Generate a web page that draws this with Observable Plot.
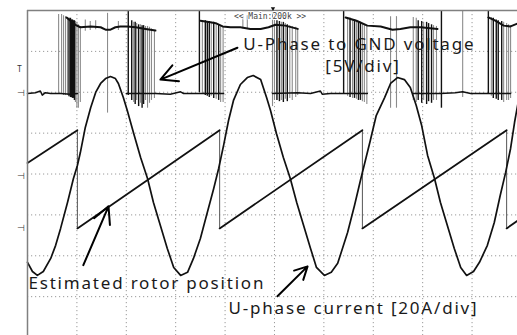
<!DOCTYPE html>
<html><head><meta charset="utf-8">
<script src="https://cdn.jsdelivr.net/npm/d3@7"></script>
<script src="https://cdn.jsdelivr.net/npm/@observablehq/plot@0.6"></script>
<style>
html,body{margin:0;padding:0;background:#fff;}
#chart{width:517px;height:335px;overflow:hidden;}
</style></head><body><div id="chart"></div>
<script>
// Time axis in screen divisions (10 div across), channel values in physical units
const VOLT_PER_DIV = 5, AMP_PER_DIV = 20, DEG_PER_DIV = 150;
const offsetVolt = 1.97, offsetAmp = -0.06, offsetDeg = -1.33; // channel ground levels (div)

// CH2: U-phase current [A]  (t div, A)
const currentTrace = [
 [0,-42],[0.10,-46.5],[0.20,-48.4],[0.32,-46.5],[0.47,-40.1],[0.57,-33.7],[0.67,-25.4],[0.81,-12.7],
 [0.93,-1.0],[1.01,5.4],[1.07,11.7],[1.17,24.0],[1.28,33.7],[1.38,41.1],[1.48,45.5],[1.58,47.9],
 [1.68,48.9],[1.78,47.9],[1.84,45.5],[1.94,38.6],[2.02,32.3],[2.15,21.0],[2.29,9.3],[2.43,-1.0],
 [2.55,-12.7],[2.69,-24.0],[2.83,-35.2],[2.96,-44.5],[3.10,-48.4],[3.24,-46.9],[3.36,-40.1],[3.50,-30.3],
 [3.64,-17.6],[3.77,-5.9],[3.87,3.9],[3.97,15.2],[4.07,27.4],[4.17,37.2],[4.31,45.0],[4.45,48.4],
 [4.57,49.4],[4.72,47.4],[4.84,38.6],[4.92,32.3],[5.04,21.0],[5.18,9.3],[5.32,-1.0],[5.45,-12.7],
 [5.59,-24.0],[5.73,-35.2],[5.85,-44.5],[6.01,-48.4],[6.15,-46.9],[6.28,-42.5],[6.48,-27.4],[6.62,-14.2],
 [6.74,-2.0],[6.84,7.8],[6.94,17.6],[7.06,29.8],[7.23,38.6],[7.35,45.5],[7.49,48.4],[7.63,47.4],
 [7.75,43.5],[7.87,34.7],[7.98,24.9],[8.10,10.3],[8.24,-1.0],[8.36,-12.7],[8.50,-24.0],[8.64,-35.2],
 [8.77,-44.5],[8.89,-48.4],[9.03,-46.5],[9.15,-42.0],[9.31,-33.7],[9.45,-22.5],[9.57,-9.3],[9.68,2.0],
 [9.78,13.7],[9.86,26.4],[9.94,37.2]
];

// CH3: estimated rotor position [deg electrical], sawtooth ramps and reset instants
const rotorRamps = [
 [[0,240],[1.01,360]],
 [[1.01,0],[3.89,360]],
 [[3.89,0],[6.78,360]],
 [[6.78,0],[9.70,360]],
 [[9.70,0],[9.92,28]]
];
const rotorResets = [1.01, 3.89, 6.78, 9.70];

// CH1: U-phase to GND voltage [V] - low level and high level stretches
const voltLow = [
 [[0,0],[0.16,0.1],[0.26,0.3],[0.30,-0.2],[0.36,0.1],[0.47,0],[0.67,0],[0.87,-0.1],[1.01,0]],
 [[2.00,0],[2.29,0],[2.59,0],[2.89,-0.1],[3.10,0.2],[3.16,0],[3.50,0],[3.97,0]],
 [[4.96,0],[5.47,0.1],[5.73,0],[5.93,0.3],[5.97,-0.1],[6.13,0],[6.44,0],[6.88,0]],
 [[7.81,0],[8.36,0],[8.66,0.1],[8.81,0.2],[8.97,0],[9.33,0],[9.78,0]]
];
const voltHigh = [
 [[0.79,9.3],[0.87,8.9],[0.97,8.4],[1.07,8.1],[1.28,8.2],[1.48,8.1],[1.58,7.8],[1.68,7.8],[1.78,8.1],[1.88,8.2],[2.02,8.2],[2.19,8.1],[2.39,7.9],[2.59,7.7]],
 [[3.50,8.9],[3.60,8.8],[3.70,8.7],[3.81,8.6],[3.95,8.2],[4.11,8.1],[4.31,8.1],[4.51,7.9],[4.72,7.9],[4.88,8.1],[5.02,8.4],[5.22,8.3],[5.47,7.9]],
 [[6.44,9.3],[6.66,8.9],[6.88,8.3],[7.15,8.2],[7.39,7.8],[7.55,7.9],[7.75,8.1],[7.96,8.1],[8.30,7.9]],
 [[9.33,9.3],[9.47,8.9],[9.64,8.3],[9.78,8.2],[9.92,8.55]]
];
// PWM switching edges: [t, V top, V bottom, persistence intensity]
const pwmEdges = [
 [0.63,9.65,0,1],[0.69,9.65,0,1],[0.73,9.5,-0.25,1],[0.77,9.4,-0.25,1],[0.81,9.3,-0.25,1],[0.84,9.2,-0.4,2],
 [0.87,9.2,-0.5,2],[0.89,9.0,-0.5,2],[0.91,9.0,-0.6,2],[0.93,8.9,-0.6,2],[0.95,8.9,-0.85,2],[0.97,8.8,-1.1,1],
 [1.00,8.7,-1.8,1],[1.03,8.4,-1.8,1],[1.07,8.2,-1.1,1],
 [1.17,9.0,7.6,1],[1.27,8.8,7.7,1],[1.38,8.9,7.8,1],[1.62,9.8,-2.4,1],[1.84,8.8,7.7,1],
 [2.04,10.2,-0.25,2],[2.11,8.9,-0.85,2],[2.15,8.7,-1.1,1],[2.18,8.7,-1.35,2],[2.21,8.55,-0.85,1],[2.25,8.4,-1.6,2],
 [2.29,8.4,-1.2,1],[2.32,8.3,-1.8,2],[2.35,8.3,-1.35,2],[2.39,8.2,-0.85,1],[2.43,8.2,-1.8,1],[2.47,8.1,-1.2,1],
 [2.51,7.9,-0.85,1],[2.57,7.7,-0.6,1],
 [3.48,10.2,0.1,2],[3.54,8.9,-0.1,1],[3.60,8.9,-0.25,2],[3.64,8.8,-0.35,2],[3.68,8.8,-0.5,2],[3.72,8.7,-0.35,1],
 [3.77,8.7,-0.6,2],[3.82,8.55,-0.7,1],[3.87,8.4,-0.85,2],[3.91,8.3,-1.1,1],[3.96,8.2,-1.1,1],
 [4.36,9.6,7.9,1],[4.45,9.5,7.9,1],
 [4.96,9.9,-1.6,1],[5.00,9.2,-0.85,1],[5.05,8.9,-0.85,2],[5.10,8.8,-1.0,2],[5.14,8.7,-0.85,1],[5.18,8.7,-1.1,2],
 [5.22,8.55,-0.7,1],[5.26,8.4,-1.0,2],[5.31,8.3,-0.6,1],[5.36,8.2,-0.85,1],[5.43,8.1,-0.5,1],[5.47,7.9,-0.25,1],
 [6.40,10.2,0,2],[6.48,9.3,-0.35,1],[6.53,9.2,-0.5,2],[6.58,9.0,-0.6,1],[6.62,9.0,-0.6,2],[6.66,8.9,-0.7,1],
 [6.70,8.8,-0.85,2],[6.74,8.7,-0.85,2],[6.78,8.55,-1.0,1],[6.82,8.4,-1.1,1],[6.87,8.3,-1.35,1],
 [7.35,9.4,-1.8,1],[7.47,9.4,-1.8,1],
 [7.81,9.3,-0.85,1],[7.87,9.2,-1.1,1],[7.91,8.9,-0.85,2],[7.98,8.8,-1.2,2],[8.02,8.7,-0.85,1],[8.08,8.7,-1.35,2],
 [8.12,8.55,-1.0,2],[8.18,8.4,-1.2,2],[8.22,8.3,-0.85,1],[8.28,8.2,-0.85,1],
 [8.38,10.2,-1.8,2],[8.81,10.2,-0.5,1],
 [9.33,10.2,0,2],[9.39,9.3,-0.35,1],[9.43,9.2,-0.6,2],[9.49,9.0,-0.7,2],[9.53,8.9,-0.85,2],[9.60,8.8,-0.85,2],
 [9.64,8.7,-1.1,1],[9.70,8.55,-0.85,1],[9.74,8.4,-0.85,1],[9.78,8.3,-0.6,1]
];

// Annotations (label, t div, screen div) and arrows (t1, y1, t2, y2 in div)
const labels = [
 {text:"U-Phase to GND voltage", t:4.37, y:3.17, anchor:"start"},
 {text:"[5V/div]", t:6.79, y:2.63, anchor:"middle"},
 {text:"Estimated rotor position", t:0.02, y:-2.67, anchor:"start"},
 {text:"U-phase current [20A/div]", t:4.07, y:-3.29, anchor:"start"}
];
const arrows = [
 {t1:4.25, y1:3.09, t2:2.69, y2:2.31},
 {t1:1.13, y1:-2.23, t2:1.64, y2:-0.79},
 {t1:5.06, y1:-2.99, t2:5.67, y2:-2.26}
];
const statusText = "<< Main:200k >>";
const channelMarkers = [offsetVolt, offsetAmp, offsetDeg];
const triggerLevel = 2.55; // div

// ---- derived tables ----
const curRows = currentTrace.map(([t,a]) => ({t, y: offsetAmp + a/AMP_PER_DIV}));
const rampRows = rotorRamps.flatMap((seg,i) => seg.map(([t,d]) => ({t, y: offsetDeg + d/DEG_PER_DIV, seg:i})));
const resetRows = rotorResets.map(t => ({t, y1: offsetDeg, y2: offsetDeg + 360/DEG_PER_DIV}));
const lowRows = voltLow.flatMap((seg,i) => seg.map(([t,v]) => ({t, y: offsetVolt + v/VOLT_PER_DIV, seg:i})));
const highRows = voltHigh.flatMap((seg,i) => seg.map(([t,v]) => ({t, y: offsetVolt + v/VOLT_PER_DIV, seg:i})));
const edgeRows = pwmEdges.map(([t,top,bot,k]) => ({t, y1: offsetVolt + bot/VOLT_PER_DIV, y2: offsetVolt + Math.min(top,10.1)/VOLT_PER_DIV, k}));

const grid = {stroke:"#9a9a9a", strokeDasharray:"1.2,2.8", strokeWidth:1};
const font = "'Noto Sans', 'DejaVu Sans', sans-serif";

const chart = Plot.plot({
  width: 517, height: 335,
  marginLeft: 27, marginRight: 0, marginTop: 10, marginBottom: 0,
  x: {domain:[0, 9.92], axis:null},
  y: {domain:[-3.95, 4], axis:null},
  style: {background:"#fff", overflow:"visible"},
  marks: [
    Plot.ruleX(d3.range(1,10), {...grid}),
    Plot.ruleY(d3.range(-3,4), {...grid}),
    // CH1 voltage
    Plot.ruleX(edgeRows.filter(d=>d.k===1), {x:"t", y1:"y1", y2:"y2", stroke:"#8c8c8c", strokeWidth:1.1}),
    Plot.ruleX(edgeRows.filter(d=>d.k===2), {x:"t", y1:"y1", y2:"y2", stroke:"#111", strokeWidth:1.4}),
    Plot.line(lowRows, {x:"t", y:"y", z:"seg", stroke:"#111", strokeWidth:1.5}),
    Plot.line(highRows, {x:"t", y:"y", z:"seg", stroke:"#111", strokeWidth:2}),
    // CH3 rotor position
    Plot.ruleX(resetRows, {x:"t", y1:"y1", y2:"y2", stroke:"#555", strokeWidth:1}),
    Plot.line(rampRows, {x:"t", y:"y", z:"seg", stroke:"#111", strokeWidth:1.8}),
    // CH2 current
    Plot.line(curRows, {x:"t", y:"y", stroke:"#111", strokeWidth:1.7, curve:"linear"}),
    // frame
    Plot.ruleX([0], {stroke:"#808080", strokeWidth:1.5}),
    Plot.ruleY([4], {stroke:"#808080", strokeWidth:1.5}),
    // status label
    Plot.text([statusText], {x:4.91, y:3.86, text:d=>d, fontFamily:"'DejaVu Sans Mono', monospace", fontSize:8, fill:"#444", stroke:"#fff", strokeWidth:2}),
    Plot.dot([0], {x:4.97, y:4.05, symbol:"triangle", r:1.6, fill:"#111", rotate:180}),
    // channel ground markers and trigger level
    Plot.text(channelMarkers, {x:0, y:d=>d, text:()=>"⊣", dx:-7, fontSize:9, fill:"#333", textAnchor:"middle"}),
    Plot.text([triggerLevel], {x:0, y:d=>d, text:()=>"T", dx:-8, fontSize:8, fill:"#333", textAnchor:"middle"}),
    // annotations
    Plot.arrow(arrows, {x1:"t1", y1:"y1", x2:"t2", y2:"y2", stroke:"#000", strokeWidth:2, headLength:14, headAngle:55}),
    Plot.text(labels.filter(d=>d.anchor==="start"), {x:"t", y:"y", text:"text", textAnchor:"start", fontSize:17, fontFamily:font, fill:"#1a1a1a"}),
    Plot.text(labels.filter(d=>d.anchor==="middle"), {x:"t", y:"y", text:"text", textAnchor:"middle", fontSize:17, fontFamily:font, fill:"#1a1a1a"})
  ]
});
document.getElementById("chart").appendChild(chart);
// wider letter spacing of the annotation captions, as in the original figure
d3.select(chart).selectAll("text").filter(function(){ return this.getAttribute("font-size")==="17" || (this.parentNode && this.parentNode.getAttribute("font-size")==="17"); })
  .style("letter-spacing","1.8px");
</script></body></html>
